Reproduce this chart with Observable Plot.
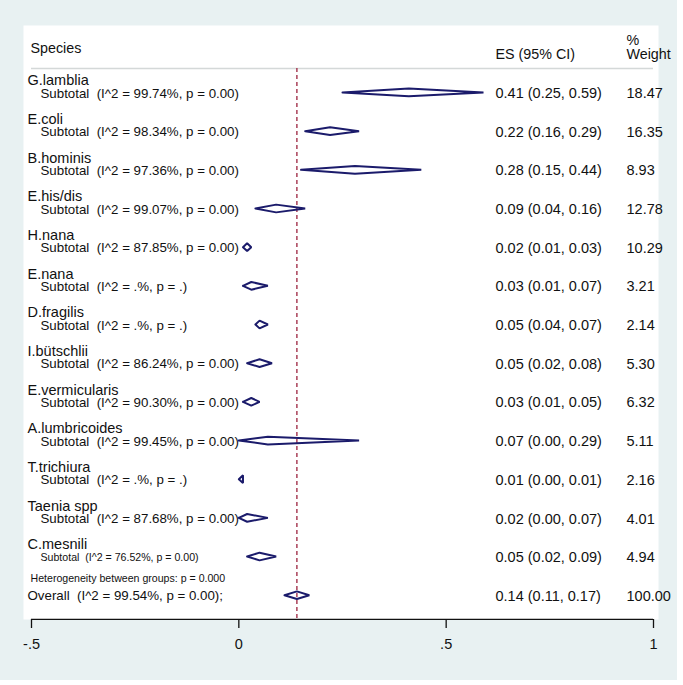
<!DOCTYPE html>
<html>
<head>
<meta charset="utf-8">
<script src="https://cdn.jsdelivr.net/npm/d3@7"></script>
<script src="https://cdn.jsdelivr.net/npm/@observablehq/plot@0.6"></script>
<style>
  html, body { margin: 0; padding: 0; background: #ffffff; }
  #chart svg { display: block; background: #E8F1F2; }
</style>
</head>
<body>
<div id="chart"></div>
<script>
// ---- data ----
const species = ["G.lamblia","E.coli","B.hominis","E.his/dis","H.nana","E.nana","D.fragilis","I.bütschlii","E.vermicularis","A.lumbricoides","T.trichiura","Taenia spp","C.mesnili"];
const i2 = ["99.74","98.34","97.36","99.07","87.85",".",".","86.24","90.30","99.45",".","87.68","76.52"];
const pval = ["0.00","0.00","0.00","0.00","0.00",".",".","0.00","0.00","0.00",".","0.00","0.00"];
const es = [0.41,0.22,0.28,0.09,0.02,0.03,0.05,0.05,0.03,0.07,0.01,0.02,0.05];
const lo = [0.25,0.16,0.15,0.04,0.01,0.01,0.04,0.02,0.01,0.00,0.00,0.00,0.02];
const hi = [0.59,0.29,0.44,0.16,0.03,0.07,0.07,0.08,0.05,0.29,0.01,0.07,0.09];
const weight = [18.47,16.35,8.93,12.78,10.29,3.21,2.14,5.30,6.32,5.11,2.16,4.01,4.94];
const overall = {es: 0.14, lo: 0.11, hi: 0.17, weight: 100.00, i2: "99.54", p: "0.00"};
const hetText = "Heterogeneity between groups: p = 0.000";
const xTicks = [-0.5, 0, 0.5, 1];
const xTickLabels = ["-.5", "0", ".5", "1"];

// ---- row layout (row units) ----
const groups = species.map((s, i) => ({
  name: s,
  nameRow: i * 3,
  subRow: i * 3 + 1,
  sub: `Subtotal  (I^2 = ${i2[i]}%, p = ${pval[i]})`,
  es: es[i], lo: lo[i], hi: hi[i],
  esText: `${es[i].toFixed(2)} (${lo[i].toFixed(2)}, ${hi[i].toFixed(2)})`,
  wText: weight[i].toFixed(2),
  small: i === species.length - 1
}));
const overallRow = species.length * 3 + 1;
const hetRow = overallRow - 1.33;
const ov = {
  row: overallRow,
  label: `Overall  (I^2 = ${overall.i2}%, p = ${overall.p});`,
  es: overall.es, lo: overall.lo, hi: overall.hi,
  esText: `${overall.es.toFixed(2)} (${overall.lo.toFixed(2)}, ${overall.hi.toFixed(2)})`,
  wText: overall.weight.toFixed(2)
};

// diamonds as closed polylines
const dh = 0.3; // half-height in row units
const diamonds = [];
[...groups.map((g, i) => ({...g, row: g.subRow, key: i})), {...ov, key: "ov"}].forEach(d => {
  const pts = [[d.lo, d.row], [d.es, d.row - dh], [d.hi, d.row], [d.es, d.row + dh], [d.lo, d.row]];
  pts.forEach(([x, y]) => diamonds.push({x, y, key: d.key}));
});

const font = "'Liberation Sans', Arial, Helvetica, sans-serif";
const ink = "#111111";
const navy = "#1b1b6b";

const chart = Plot.plot({
  width: 677,
  height: 680,
  marginLeft: 23,
  marginRight: 19,
  marginTop: 25,
  marginBottom: 61,
  style: {fontFamily: font, background: "#E8F1F2", color: ink},
  x: {domain: [-0.5, 1], range: [31, 653], label: null},
  y: {domain: [0, overallRow], range: [80.1, 595.7], axis: null},
  marks: [
    Plot.frame({fill: "white", stroke: "none"}),
    // header line
    Plot.ruleY([-0.94], {x1: -0.5, x2: 1, stroke: "#d4d8d8", strokeWidth: 1.5}),
    // header text
    Plot.text(["Species"], {frameAnchor: "left", y: -2.5, dx: 7, text: d => d, textAnchor: "start", fontSize: 14.3, fill: ink}),
    Plot.text(["ES (95% CI)"], {frameAnchor: "left", y: -2.05, dx: 472, text: d => d, textAnchor: "start", fontSize: 14.3, fill: ink}),
    Plot.text(["%"], {frameAnchor: "left", y: -3.1, dx: 603, text: d => d, textAnchor: "start", fontSize: 14.3, fill: ink}),
    Plot.text(["Weight"], {frameAnchor: "left", y: -2.0, dx: 603, text: d => d, textAnchor: "start", fontSize: 14.3, fill: ink}),
    // null line (overall ES)
    Plot.ruleX([overall.es], {y1: -0.94, y2: overallRow + 1.8, stroke: "#a3324c", strokeWidth: 1.4, strokeDasharray: "4,3"}),
    // axis line
    Plot.ruleY([overallRow + 1.8], {x1: xTicks[0], x2: xTicks[xTicks.length - 1], stroke: "#111", strokeWidth: 1.3}),
    Plot.axisX({anchor: "bottom", ticks: xTicks, tickFormat: (d, i) => xTickLabels[i], tickSize: 9, tickPadding: 10, fontSize: 14.5, stroke: "#111", strokeWidth: 1.3, fill: ink, label: null}),
    // species names
    Plot.text(groups, {frameAnchor: "left", y: "nameRow", dx: 4, text: "name", textAnchor: "start", fontSize: 14.5, fill: ink}),
    // subtotal labels
    Plot.text(groups, {frameAnchor: "left", y: "subRow", dx: 17, text: "sub", textAnchor: "start", fontSize: d => d.small ? 10.6 : 13.3, fill: ink}),
    // ES + weight columns
    Plot.text(groups, {frameAnchor: "left", y: "subRow", dx: 472, text: "esText", textAnchor: "start", fontSize: 14.5, fill: ink}),
    Plot.text(groups, {frameAnchor: "left", y: "subRow", dx: 603, text: "wText", textAnchor: "start", fontSize: 14.5, fill: ink}),
    // heterogeneity + overall
    Plot.text([hetText], {frameAnchor: "left", y: hetRow, dx: 7, text: d => d, textAnchor: "start", fontSize: 10.6, fill: ink}),
    Plot.text([ov], {frameAnchor: "left", y: "row", dx: 4, text: "label", textAnchor: "start", fontSize: 13.3, fill: ink}),
    Plot.text([ov], {frameAnchor: "left", y: "row", dx: 472, text: "esText", textAnchor: "start", fontSize: 14.5, fill: ink}),
    Plot.text([ov], {frameAnchor: "left", y: "row", dx: 603, text: "wText", textAnchor: "start", fontSize: 14.5, fill: ink}),
    // diamonds
    Plot.line(diamonds, {x: "x", y: "y", z: "key", stroke: navy, strokeWidth: 2, strokeLinejoin: "miter", dy: -1})
  ]
});
document.getElementById("chart").appendChild(chart);
</script>
</body>
</html>
